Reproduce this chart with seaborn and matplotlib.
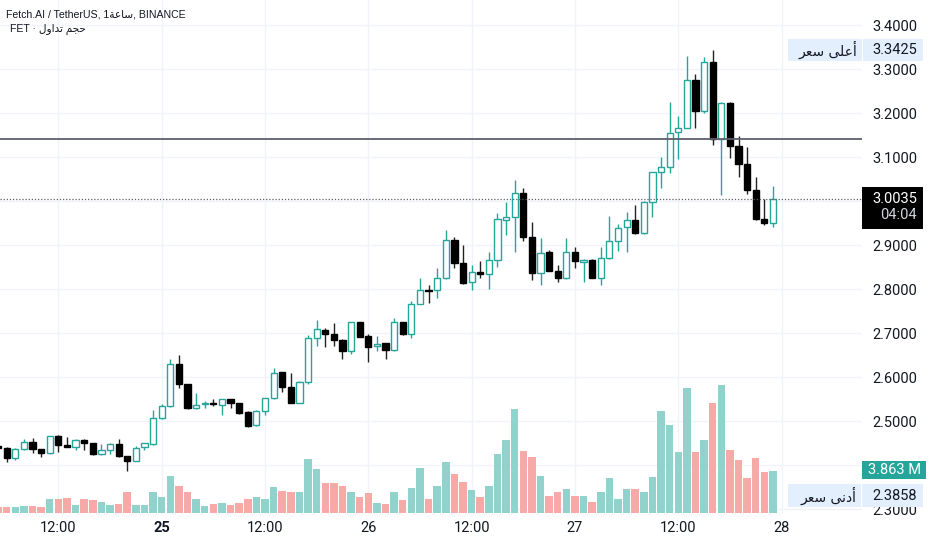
import matplotlib
matplotlib.use("Agg")
import matplotlib.pyplot as plt
from matplotlib.patches import Rectangle
import numpy as np
import pandas as pd
import seaborn as sns

# hourly FET/USDT candles, 24th 05:00 -> 27th 23:00
opens = [2.443, 2.438, 2.415, 2.437, 2.452, 2.436, 2.427, 2.466, 2.445, 2.442,
         2.457, 2.449, 2.425, 2.433, 2.448, 2.420, 2.409, 2.440, 2.448, 2.507,
         2.533, 2.629, 2.583, 2.529, 2.538, 2.541, 2.536, 2.549, 2.540, 2.521,
         2.491, 2.523, 2.552, 2.611, 2.577, 2.542, 2.588, 2.688, 2.706, 2.698,
         2.684, 2.658, 2.724, 2.693, 2.671, 2.677, 2.661, 2.724, 2.698, 2.767,
         2.798, 2.797, 2.824, 2.911, 2.858, 2.815, 2.838, 2.833, 2.867, 2.957,
         2.964, 3.019, 2.919, 2.836, 2.883, 2.841, 2.825, 2.883, 2.862, 2.866,
         2.826, 2.870, 2.910, 2.942, 2.957, 2.927, 2.997, 3.065, 3.077, 3.156,
         3.167, 3.275, 3.205, 3.317, 3.140, 3.222, 3.125, 3.084, 3.026, 2.958,
         2.951]
highs = [2.446, 2.440, 2.439, 2.459, 2.461, 2.437, 2.467, 2.468, 2.463, 2.458,
         2.459, 2.451, 2.448, 2.449, 2.459, 2.421, 2.443, 2.450, 2.526, 2.539,
         2.642, 2.650, 2.585, 2.564, 2.545, 2.551, 2.550, 2.551, 2.542, 2.522,
         2.524, 2.553, 2.620, 2.612, 2.610, 2.592, 2.696, 2.729, 2.712, 2.722,
         2.686, 2.725, 2.726, 2.698, 2.694, 2.678, 2.733, 2.725, 2.772, 2.824,
         2.809, 2.848, 2.933, 2.918, 2.899, 2.855, 2.864, 2.883, 2.972, 2.997,
         3.048, 3.029, 2.952, 2.917, 2.889, 2.855, 2.917, 2.896, 2.868, 2.868,
         2.896, 2.967, 2.948, 2.976, 2.991, 2.999, 3.067, 3.101, 3.226, 3.193,
         3.330, 3.289, 3.327, 3.3425, 3.224, 3.224, 3.148, 3.122, 3.054, 3.004,
         3.034]
lows = [2.437, 2.406, 2.412, 2.435, 2.428, 2.419, 2.424, 2.430, 2.440, 2.433,
        2.433, 2.423, 2.423, 2.426, 2.419, 2.3858, 2.408, 2.434, 2.446, 2.505,
        2.531, 2.574, 2.527, 2.527, 2.529, 2.533, 2.514, 2.529, 2.517, 2.486,
        2.489, 2.514, 2.550, 2.565, 2.541, 2.540, 2.585, 2.671, 2.669, 2.671,
        2.641, 2.652, 2.690, 2.633, 2.659, 2.642, 2.658, 2.696, 2.689, 2.765,
        2.769, 2.779, 2.822, 2.847, 2.812, 2.798, 2.824, 2.800, 2.851, 2.923,
        2.885, 2.908, 2.820, 2.809, 2.840, 2.817, 2.823, 2.848, 2.817, 2.824,
        2.809, 2.868, 2.886, 2.885, 2.925, 2.925, 2.964, 3.029, 3.064, 3.095,
        3.165, 3.167, 3.199, 3.127, 3.014, 3.097, 3.054, 3.017, 2.956, 2.945,
        2.940]
closes = [2.439, 2.415, 2.437, 2.453, 2.436, 2.427, 2.466, 2.445, 2.442, 2.457,
          2.451, 2.425, 2.433, 2.448, 2.420, 2.409, 2.439, 2.449, 2.507, 2.533,
          2.629, 2.583, 2.529, 2.536, 2.540, 2.538, 2.549, 2.540, 2.519, 2.489,
          2.523, 2.552, 2.610, 2.578, 2.542, 2.588, 2.688, 2.708, 2.697, 2.684,
          2.658, 2.724, 2.692, 2.669, 2.674, 2.661, 2.724, 2.698, 2.767, 2.797,
          2.796, 2.824, 2.911, 2.858, 2.814, 2.838, 2.833, 2.866, 2.958, 2.964,
          3.019, 2.919, 2.837, 2.881, 2.842, 2.825, 2.883, 2.864, 2.866, 2.826,
          2.870, 2.910, 2.939, 2.957, 2.927, 2.997, 3.065, 3.077, 3.155, 3.167,
          3.275, 3.205, 3.317, 3.140, 3.222, 3.125, 3.083, 3.025, 2.958, 2.951,
          3.0035]
# volume in millions
volumes = [0.55, 0.55, 0.55, 0.70, 0.70, 0.61, 1.28, 1.34, 1.40, 0.73,
           1.28, 1.22, 1.03, 0.73, 0.85, 1.95, 0.79, 0.73, 1.95, 1.52,
           3.44, 2.49, 1.95, 1.28, 0.67, 0.85, 0.97, 0.79, 0.91, 1.34,
           1.52, 1.28, 2.43, 2.01, 1.95, 1.92, 4.96, 4.04, 2.77, 2.77,
           2.49, 1.92, 1.49, 1.85, 0.94, 0.85, 1.92, 1.25, 2.28, 4.16,
           1.31, 2.52, 4.71, 3.62, 2.89, 2.16, 1.49, 2.46, 5.44, 6.72,
           9.55, 5.68, 5.14, 3.37, 1.61, 1.98, 2.22, 1.61, 1.55, 1.00,
           1.92, 3.19, 1.31, 2.22, 2.19, 1.98, 3.31, 9.30, 8.06, 5.56,
           11.43, 5.62, 6.66, 10.06, 11.67, 5.81, 4.89, 3.25, 5.02, 3.74,
           3.863]

time_ticks = [7, 19, 31, 43, 55, 67, 79, 91]
time_labels = ["12:00", "25", "12:00", "26", "12:00", "27", "12:00", "28"]
price_ticks = [2.3, 2.4, 2.5, 2.6, 2.7, 2.8, 2.9, 3.0, 3.1, 3.2, 3.3, 3.4]
covered_ticks = [2.4, 3.0]  # hidden behind the price / volume tags
drawn_level = 3.141
countdown = "04:04"

# Arabic words, written in visual (shaped, right-to-left) order
hour_ar = "\uFE94\uFECB\uFE8E\uFEB3"
volume_ar = "\uFEDD\uFEED\uFE8D\uFEAA\uFE97 \uFEE2\uFEA0\uFEA3"
high_ar = "\uFEAE\uFECC\uFEB3 \uFEF0\uFEE0\uFECB\uFE83"
low_ar = "\uFEAE\uFECC\uFEB3 \uFEF0\uFEE7\uFEA9\uFE83"

sns.set_theme(style="white")
plt.rcParams['font.family'] = ['Roboto', 'DejaVu Sans']

UP = '#26a69a'
VOL_UP = '#92d2cc'
VOL_DOWN = '#f7a9a7'
TXT = '#131722'

df = pd.DataFrame({'t': np.arange(len(opens)), 'open': opens, 'high': highs,
                   'low': lows, 'close': closes, 'volume': volumes})
df['dir'] = np.where(df['close'] >= df['open'], 'up', 'down')

W, H = 932, 550
fig = plt.figure(figsize=(W / 100, H / 100), dpi=100)
fig.patch.set_facecolor('white')
axg = fig.add_axes([0, 36 / H, 862 / W, 514 / H])
axv = axg.twinx()
axp = axg.twinx()

# volume
sns.barplot(data=df, x='t', y='volume', hue='dir',
            palette={'up': VOL_UP, 'down': VOL_DOWN}, native_scale=True,
            dodge=False, width=0.87, saturation=1, errorbar=None,
            legend=False, linewidth=0, ax=axv)

# candles
up = df[df['dir'] == 'up']
dn = df[df['dir'] == 'down']
axp.vlines(up['t'], up['low'], up['high'], color=UP, lw=1, zorder=2)
axp.vlines(dn['t'], dn['low'], dn['high'], color='#222222', lw=1, zorder=2)
axp.bar(up['t'], up['close'] - up['open'], bottom=up['open'], width=0.72,
        facecolor='white', edgecolor=UP, lw=1, zorder=3)
axp.bar(dn['t'], dn['open'] - dn['close'], bottom=dn['close'], width=0.72,
        facecolor='black', edgecolor='black', lw=1, zorder=3)

axp.axhline(drawn_level, color='#5d606b', lw=1.3, zorder=4)
axp.axhline(closes[-1], color='#5d606b', lw=0.9, ls=(0, (1, 1.5)), zorder=4)

ylim = (2.28864, 3.45682)
xlim = (0.222, 100.34)
for a in (axg, axp):
    a.set_ylim(*ylim)
axv.set_ylim(-0.064, 46.83)
axg.set_xlim(*xlim)

axg.yaxis.tick_right()
axg.set_yticks(price_ticks, ["" if p in covered_ticks else f"{p:.4f}"
                             for p in price_ticks])
axg.set_xticks(time_ticks, time_labels)
axg.grid(True, color='#f0f3fa', lw=1)
axg.tick_params(axis='y', length=0, pad=39.6, labelsize=10.5, labelcolor=TXT)
axg.tick_params(axis='x', length=0, pad=5, labelsize=10.5, labelcolor=TXT)
plt.setp(axg.get_yticklabels(), ha='right')
for lbl in axg.get_xticklabels():
    if lbl.get_text() == "25":
        lbl.set_fontweight('bold')
axg.set_xlabel('')
axg.set_ylabel('')

for a in (axv, axp):
    a.set_yticks([])
    a.set_xlabel('')
    a.set_ylabel('')
for a in (axg, axv, axp):
    for s in a.spines.values():
        s.set_visible(False)


def fig_y(ax, val):
    return fig.transFigure.inverted().transform(ax.transData.transform((0, val)))[1]


def box(x0, x1, top, bottom, face):
    fig.add_artist(Rectangle((x0 / W, bottom), (x1 - x0) / W, top - bottom,
                             transform=fig.transFigure, facecolor=face,
                             edgecolor='none', zorder=5))


def ftext(x, y, s, **kw):
    kw.setdefault('fontsize', 10.5)
    kw.setdefault('color', TXT)
    fig.text(x / W, y, s, va='center', zorder=6, **kw)


# highest price tag
yh = fig_y(axp, max(highs))
box(788, 862, yh + 11 / H, yh - 11 / H, '#e3effd')
box(863, 923, yh + 11 / H, yh - 11 / H, '#e3effd')
ftext(857, yh, high_ar, ha='right', family=['DejaVu Sans'], fontsize=10)
ftext(917, yh, f"{max(highs):.4f}", ha='right')

# last price tag with countdown
yc = fig_y(axp, closes[-1])
box(862, 923, yc + 12 / H, yc - 30 / H, '#000000')
ftext(917, yc, f"{closes[-1]:.4f}", ha='right', color='white')
ftext(917, yc - 16 / H, countdown, ha='right', color='#d1d4dc')

# last volume tag
yv = fig_y(axv, volumes[-1])
box(862, 926, yv + 10 / H, yv - 8 / H, UP)
ftext(921, yv + 1 / H, f"{volumes[-1]:.3f} M", ha='right', color='white')

# lowest price tag (pushed below the volume tag)
yl = yv - 25 / H
box(788, 861, yl + 11.5 / H, yl - 11.5 / H, '#e3effd')
box(862, 923, yl + 11.5 / H, yl - 11.5 / H, '#e3effd')
ftext(856, yl, low_ar, ha='right', family=['DejaVu Sans'], fontsize=10)
ftext(917, yl, f"{min(lows):.4f}", ha='right')

# legend lines top-left
ftext(6, 1 - 14.5 / H, "Fetch.AI / TetherUS, 1" + hour_ar + ", BINANCE",
      family=['Liberation Sans', 'DejaVu Sans'], fontsize=7.6)
ftext(10, 1 - 29 / H, "FET \u00b7 " + volume_ar,
      family=['Liberation Sans', 'DejaVu Sans'], fontsize=7.6)

fig.savefig('out.png', dpi=100, facecolor='white')
